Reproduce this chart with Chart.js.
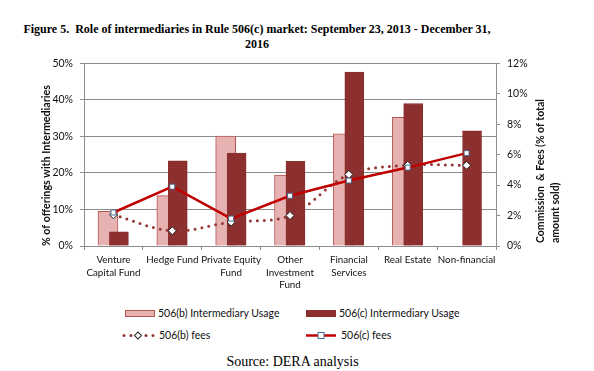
<!DOCTYPE html>
<html>
<head>
<meta charset="utf-8">
<script src="https://cdn.jsdelivr.net/npm/chart.js@4/dist/chart.umd.min.js"></script>
<style>
body { margin: 0; width: 594px; height: 371px; background: #fff; position: relative; overflow: hidden; }
#title { position: absolute; left: 7px; top: 22px; width: 500px; text-align: center; font: bold 12px "Liberation Serif", "DejaVu Serif", serif; line-height: 14.5px; color: #000; white-space: nowrap; }
#chartBox { position: absolute; left: 0; top: 50px; width: 594px; height: 250px; }
.leg { position: absolute; font: 10.5px Lato, sans-serif; color: #111; white-space: nowrap; display: flex; align-items: center; }
.leg svg { margin-right: 3px; }
#source { position: absolute; left: 0; width: 585px; top: 354px; text-align: center; font: 14px "Liberation Serif", serif; color: #000; }
</style>
</head>
<body>
<div id="title">Figure 5.&nbsp; Role of intermediaries in Rule 506(c) market: September 23, 2013 - December 31,<br>2016</div>
<div id="chartBox"><canvas id="chart" width="594" height="250"></canvas></div>

<div class="leg" style="left:125px; top:307px;">
  <svg width="30" height="9"><rect x="0.5" y="1.5" width="29" height="6" fill="#E6B3B2" stroke="#B35654" stroke-width="1"/></svg>506(b) Intermediary Usage</div>
<div class="leg" style="left:306px; top:307px;">
  <svg width="30" height="9"><rect x="0.5" y="1.5" width="29" height="6" fill="#8B2F2F" stroke="#8B2F2F" stroke-width="1"/></svg>506(c) Intermediary Usage</div>
<div class="leg" style="left:122px; top:329px;">
  <svg width="34" height="11"><g fill="#953735"><circle cx="2" cy="5.5" r="1.5"/><circle cx="9" cy="5.5" r="1.5"/><circle cx="24" cy="5.5" r="1.5"/><circle cx="31" cy="5.5" r="1.5"/></g><rect x="13.5" y="3" width="5" height="5" transform="rotate(45 16 5.5)" fill="#fff" stroke="#222" stroke-width="1"/></svg>506(b) fees</div>
<div class="leg" style="left:306px; top:329px;">
  <svg width="32" height="11"><line x1="0" y1="5.5" x2="30" y2="5.5" stroke="#C00000" stroke-width="2.5"/><rect x="12" y="2.5" width="6" height="6" fill="#fff" stroke="#4A6A8F" stroke-width="1"/></svg>506(c) fees</div>

<div id="source">Source: DERA analysis</div>

<script>
const categories = [['Venture', 'Capital Fund'], 'Hedge Fund', ['Private Equity', 'Fund'], ['Other', 'Investment', 'Fund'], ['Financial', 'Services'], 'Real Estate', 'Non-financial'];
const usage506b = [9.5, 13.8, 30.1, 19.4, 30.7, 35.2, null];
const usage506c = [3.9, 23.3, 25.4, 23.2, 47.6, 39.0, 31.5];
const fees506b = [2.05, 1.0, 1.57, 2.0, 4.7, 5.3, 5.3];
const fees506c = [2.2, 3.9, 1.8, 3.3, 4.3, 5.15, 6.1];
const leftTicks = [0, 10, 20, 30, 40, 50];
const rightTicks = [0, 2, 4, 6, 8, 10, 12];

const gridColor = '#8C8C8C';
const tickFont = { family: 'Lato, sans-serif', size: 10.5 };
// the two bars of a category overlap, so they sit on a hidden linear axis
// (same layout as the category axis) nudged a little either side of centre
const barShift = 0.093;
const atIndex = (arr, shift) => arr.map((v, i) => ({ x: i + shift, y: v }));

// draws the right axis title reading bottom to top, like the left one
const rightTitle = {
    id: 'rightTitle',
    afterDraw(chart) {
        const ctx = chart.ctx;
        const area = chart.chartArea;
        ctx.save();
        ctx.font = 'bold 10.5px Lato, sans-serif';
        ctx.fillStyle = '#111';
        ctx.textAlign = 'left';
        ctx.textBaseline = 'middle';
        ctx.translate(area.right + 45, area.bottom - 3);
        ctx.rotate(-Math.PI / 2);
        ctx.fillText('Commission  & Fees (% of total', 0, 0);
        ctx.fillText('amount sold)', 0, 14.5);
        ctx.restore();
    }
};

new Chart(document.getElementById('chart'), {
    data: {
        labels: categories,
        datasets: [
            { type: 'bar', label: '506(b) Intermediary Usage', data: atIndex(usage506b, -barShift),
              xAxisID: 'xl', yAxisID: 'y', order: 4, grouped: false, barThickness: 20,
              backgroundColor: '#E6B3B2', borderColor: '#B35654', borderWidth: 1 },
            { type: 'bar', label: '506(c) Intermediary Usage', data: atIndex(usage506c, barShift),
              xAxisID: 'xl', yAxisID: 'y', order: 3, grouped: false, barThickness: 19,
              backgroundColor: '#8B2F2F', borderColor: '#8B2F2F', borderWidth: 1 },
            { type: 'line', label: '506(b) fees', data: fees506b, xAxisID: 'x', yAxisID: 'y2', order: 1,
              borderColor: '#953735', borderWidth: 3, borderDash: [0, 7], borderCapStyle: 'round',
              tension: 0.35, pointStyle: 'rectRot', pointRadius: 4, pointBackgroundColor: '#fff',
              pointBorderColor: '#222', pointBorderWidth: 1 },
            { type: 'line', label: '506(c) fees', data: fees506c, xAxisID: 'x', yAxisID: 'y2', order: 0,
              borderColor: '#C00000', borderWidth: 2.5, tension: 0,
              pointStyle: 'rect', pointRadius: 3.5, pointBackgroundColor: '#fff',
              pointBorderColor: '#4A6A8F', pointBorderWidth: 1 }
        ]
    },
    options: {
        responsive: false,
        animation: false,
        layout: { padding: { top: 6, left: 0, right: 0, bottom: 0 } },
        plugins: { legend: { display: false }, tooltip: { enabled: false } },
        scales: {
            x: {
                offset: true,
                grid: { offset: true, drawOnChartArea: false, color: gridColor, tickLength: 4 },
                border: { color: gridColor },
                ticks: { color: '#111', font: { family: 'Lato, sans-serif', size: 9.8, lineHeight: 1.25 },
                         padding: 4, maxRotation: 0, autoSkip: false },
                afterFit: s => { s.height = 54; }
            },
            xl: { type: 'linear', display: false, offset: false, bounds: 'ticks',
                  min: -0.5, max: categories.length - 0.5, grid: { offset: false } },
            y: {
                position: 'left',
                min: 0, max: 50,
                afterBuildTicks: s => { s.ticks = leftTicks.map(v => ({ value: v })); },
                grid: { color: gridColor, tickLength: 4 },
                border: { color: gridColor },
                ticks: { color: '#111', font: tickFont, padding: 7, callback: v => v + '%' },
                title: { display: true, text: '% of offerings with Intermediaries', color: '#111', align: 'start',
                         font: { family: 'Lato, sans-serif', size: 10.7, weight: 'bold' }, padding: { top: 40, bottom: 0 } },
                afterFit: s => { s.width = 84; }
            },
            y2: {
                position: 'right',
                min: 0, max: 12,
                afterBuildTicks: s => { s.ticks = rightTicks.map(v => ({ value: v })); },
                grid: { drawOnChartArea: false, color: gridColor, tickLength: 4 },
                border: { color: gridColor },
                ticks: { color: '#111', font: tickFont, padding: 7, callback: v => v + '%' },
                afterFit: s => { s.width = 98; }
            }
        }
    },
    plugins: [rightTitle]
});
</script>
</body>
</html>
